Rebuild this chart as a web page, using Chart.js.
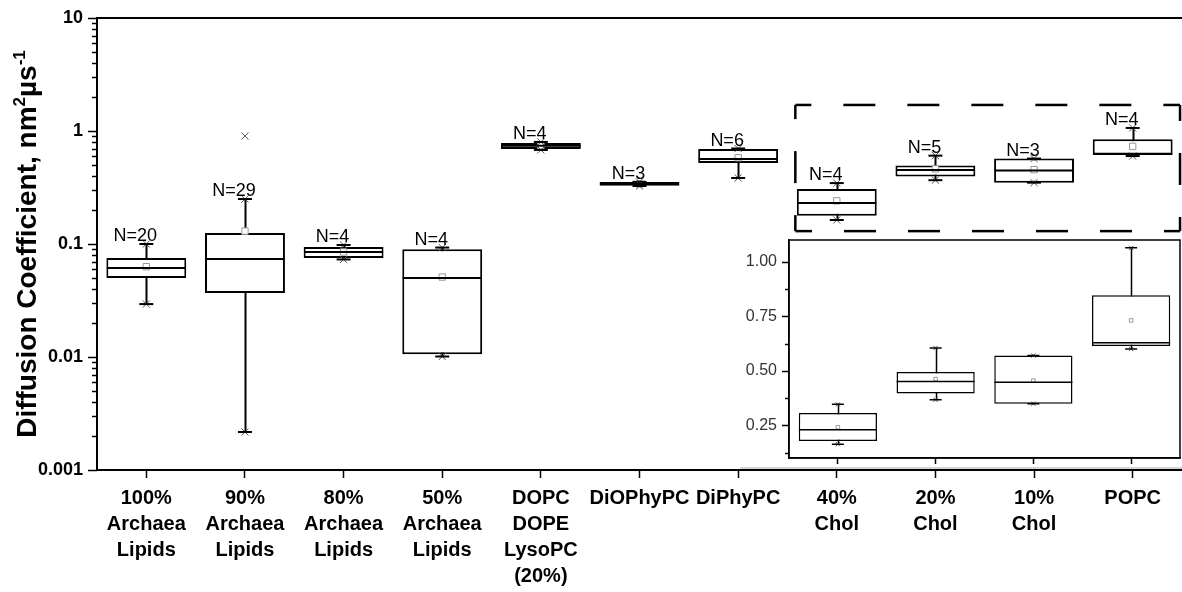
<!DOCTYPE html>
<html>
<head>
<meta charset="utf-8">
<script src="https://cdn.jsdelivr.net/npm/chart.js@4.4.1/dist/chart.umd.min.js"></script>
<style>
  html, body { margin: 0; padding: 0; background: #fff; }
  #wrap { position: relative; width: 1182px; height: 592px; }
  #mainChart { position: absolute; left: 0; top: 0; }
  #insetChart { position: absolute; left: 740px; top: 232px; }
</style>
</head>
<body>
<div id="wrap">
  <canvas id="mainChart" width="1182" height="592"></canvas>
  <canvas id="insetChart" width="442" height="245"></canvas>
</div>
<script>
// categories (multi-line labels)
const categories = [
  ["100%", "Archaea", "Lipids"],
  ["90%", "Archaea", "Lipids"],
  ["80%", "Archaea", "Lipids"],
  ["50%", "Archaea", "Lipids"],
  ["DOPC", "DOPE", "LysoPC", "(20%)"],
  ["DiOPhyPC"],
  ["DiPhyPC"],
  ["40%", "Chol"],
  ["20%", "Chol"],
  ["10%", "Chol"],
  ["POPC"]
];
const counts      = [20, 29, 4, 4, 4, 3, 6, 4, 5, 3, 4];
const whiskerLow  = [0.0294, 0.00217, 0.073, 0.0101, 0.68, 0.326, 0.384, 0.163, 0.367, 0.349, 0.600];
const q1          = [0.050, 0.0368, 0.075, 0.0106, 0.693, 0.327, 0.521, 0.178, 0.396, 0.349, 0.614];
const median      = [0.0613, 0.0736, 0.085, 0.050, 0.740, 0.340, 0.565, 0.230, 0.451, 0.447, 0.629];
const q3          = [0.0752, 0.125, 0.094, 0.090, 0.783, 0.354, 0.693, 0.306, 0.495, 0.570, 0.847];
const whiskerHigh = [0.100, 0.250, 0.098, 0.093, 0.800, 0.355, 0.700, 0.346, 0.605, 0.570, 1.064];
const means       = [0.063, 0.130, 0.085, 0.051, 0.740, 0.340, 0.580, 0.241, 0.462, 0.455, 0.731];
const outliers    = [[], [0.903], [], [], [], [], [], [], [], [], []];

// axis ticks
const yTickLabels = ["0.001", "0.01", "0.1", "1", "10"];
const insetTickLabels = ["0.25", "0.50", "0.75", "1.00"];
const insetStart = 7;   // first category shown in the inset

// zoom region marked with dashed box (category index / value units)
const zoomBox = { x0: 6.58, x1: 10.48, y0: 0.13, y1: 1.70 };

Chart.defaults.font.family = "'Liberation Sans', Arial, sans-serif";
Chart.defaults.color = "#000";

function boxDatasets(lo, a, med, b, hi, mn, outs, opt) {
  const pt = (data, style, r, color, w, extra) => Object.assign({
    type: "line", data: data, showLine: false, pointStyle: style, pointRadius: r,
    pointHoverRadius: r, pointBorderColor: color, pointBackgroundColor: "rgba(0,0,0,0)",
    pointBorderWidth: w, borderColor: color, order: 1
  }, extra || {});
  const sets = [
    pt(med, "line", opt.halfBox, "#000", opt.lw),
    pt(lo, "line", opt.cap, "#000", opt.lw),
    pt(hi, "line", opt.cap, "#000", opt.lw),
    pt(lo, "crossRot", opt.cross, "#555", 1),
    pt(hi, "crossRot", opt.cross, "#555", 1),
    pt(mn, "rect", opt.mean, "#999", 1, { pointBackgroundColor: "#fff" })
  ];
  // one dataset per outlier rank, null where a category has none
  const maxOut = Math.max(...outs.map(o => o.length));
  for (let k = 0; k < maxOut; k++) {
    sets.push(pt(outs.map(o => (o.length > k ? o[k] : null)), "crossRot", opt.cross, "#555", 1));
  }
  sets.push({
    type: "bar",
    data: a.map((v, i) => [v, b[i]]),
    backgroundColor: "#fff",
    borderColor: "#000",
    borderWidth: opt.lw,
    borderSkipped: false,
    barPercentage: opt.barPct,
    categoryPercentage: 1,
    order: 10
  });
  return sets;
}

function whiskerPlugin(lo, hi) {
  return {
    id: "whiskers",
    beforeDatasetsDraw(chart) {
      const { ctx, scales: { x, y } } = chart;
      ctx.save();
      ctx.strokeStyle = "#000";
      ctx.lineWidth = chart.options.whiskerWidth || 2;
      lo.forEach((v, i) => {
        const px = Math.round(x.getPixelForValue(i)) + 0.5;
        ctx.beginPath();
        ctx.moveTo(px, y.getPixelForValue(v));
        ctx.lineTo(px, y.getPixelForValue(hi[i]));
        ctx.stroke();
      });
      ctx.restore();
    }
  };
}

function drawYTicks(chart, isMajor, majorLen, minorLen, lw) {
  const { ctx, scales: { y }, chartArea } = chart;
  ctx.save();
  ctx.strokeStyle = "#000";
  ctx.lineWidth = lw;
  y.ticks.forEach(t => {
    const py = Math.round(y.getPixelForValue(t.value)) + 0.5;
    const len = isMajor(t.value) ? majorLen : minorLen;
    ctx.beginPath();
    ctx.moveTo(chartArea.left, py);
    ctx.lineTo(chartArea.left - len, py);
    ctx.stroke();
  });
  ctx.restore();
}

const isDecade = v => Math.abs(Math.log10(v) - Math.round(Math.log10(v))) < 1e-9;

// ---------- main chart ----------
const mainExtras = {
  id: "mainExtras",
  afterDraw(chart) {
    const { ctx, scales: { x, y }, chartArea } = chart;
    drawYTicks(chart, isDecade, 9, 5, 1.5);

    // top frame line
    ctx.save();
    ctx.strokeStyle = "#000";
    ctx.lineWidth = 2;
    ctx.beginPath();
    ctx.moveTo(chartArea.left, chartArea.top);
    ctx.lineTo(chartArea.right, chartArea.top);
    ctx.stroke();

    // N labels
    ctx.font = "18px 'Liberation Sans', Arial, sans-serif";
    ctx.fillStyle = "#000";
    ctx.textAlign = "center";
    ctx.textBaseline = "alphabetic";
    counts.forEach((n, i) => {
      const top = Math.max(whiskerHigh[i], ...(outliers[i].filter(v => v < 0.5)));
      ctx.fillText("N=" + n, x.getPixelForValue(i) - 11, y.getPixelForValue(top) - 3);
    });

    // dashed zoom box
    const L = x.getPixelForValue(zoomBox.x0), R = x.getPixelForValue(zoomBox.x1);
    const T = y.getPixelForValue(zoomBox.y1), B = y.getPixelForValue(zoomBox.y0);
    ctx.lineWidth = 2.5;
    ctx.setLineDash([32, 32]);
    ctx.lineDashOffset = 16;
    [[L, T, R, T], [R, T, R, B], [R, B, L, B], [L, B, L, T]].forEach(s => {
      ctx.beginPath();
      ctx.moveTo(s[0], s[1]);
      ctx.lineTo(s[2], s[3]);
      ctx.stroke();
    });
    ctx.setLineDash([]);

    // y title with superscripts
    const parts = [
      { t: "Diffusion Coefficient, nm", s: 28, dy: 0 },
      { t: "2", s: 17, dy: -11 },
      { t: "µs", s: 28, dy: 0 },
      { t: "-1", s: 17, dy: -11 }
    ];
    let total = 0;
    parts.forEach(p => {
      ctx.font = "bold " + p.s + "px 'Liberation Sans', Arial, sans-serif";
      p.w = ctx.measureText(p.t).width;
      total += p.w;
    });
    ctx.translate(36, (chartArea.top + chartArea.bottom) / 2);
    ctx.rotate(-Math.PI / 2);
    ctx.textAlign = "left";
    let cx = -total / 2;
    parts.forEach(p => {
      ctx.font = "bold " + p.s + "px 'Liberation Sans', Arial, sans-serif";
      ctx.fillText(p.t, cx, p.dy);
      cx += p.w;
    });
    ctx.restore();
  }
};

new Chart(document.getElementById("mainChart"), {
  type: "bar",
  data: {
    labels: categories,
    datasets: boxDatasets(whiskerLow, q1, median, q3, whiskerHigh, means, outliers,
      { halfBox: 39.5, cap: 7, cross: 5, mean: 4.5, lw: 2, barPct: 0.81 })
  },
  options: {
    responsive: false,
    animation: false,
    devicePixelRatio: 1,
    layout: { autoPadding: false, padding: { top: 18, right: 0, bottom: 0, left: 0 } },
    plugins: { legend: { display: false }, tooltip: { enabled: false } },
    scales: {
      x: {
        offset: true,
        grid: { offset: false, drawOnChartArea: false, drawTicks: true, tickLength: 8, tickColor: "#000", tickWidth: 1.5 },
        border: { display: true, color: "#000", width: 2 },
        ticks: {
          autoSkip: false, maxRotation: 0, padding: 7, color: "#000",
          font: { size: 20, weight: "bold", lineHeight: 1.3 }
        },
        afterFit(axis) { axis.height = 122; axis.paddingLeft = 0; axis.paddingRight = 0; }
      },
      y: {
        type: "logarithmic",
        min: 0.001,
        max: 10,
        afterBuildTicks(axis) {
          const t = [];
          for (let e = -3; e <= 1; e++) {
            for (let m = 1; m <= 9; m++) {
              const v = +(m * Math.pow(10, e)).toPrecision(6);
              if (v <= 10) t.push({ value: v });
            }
          }
          axis.ticks = t;
        },
        grid: { drawOnChartArea: false, drawTicks: false },
        border: { display: true, color: "#000", width: 2 },
        ticks: {
          autoSkip: false, padding: 14, color: "#000",
          font: { size: 18, weight: "bold" },
          callback(v) {
            return isDecade(v) ? yTickLabels[Math.round(Math.log10(v)) + 3] : "";
          }
        },
        afterFit(axis) { axis.width = 97; axis.paddingTop = 0; axis.paddingBottom = 0; }
      }
    }
  },
  plugins: [whiskerPlugin(whiskerLow, whiskerHigh), mainExtras]
});

// ---------- inset (linear scale) ----------
const sl = arr => arr.slice(insetStart);
const isQuarter = v => Math.abs(v * 4 - Math.round(v * 4)) < 1e-9;

const insetExtras = {
  id: "insetExtras",
  afterDraw(chart) {
    const { ctx, chartArea } = chart;
    drawYTicks(chart, isQuarter, 7, 4, 1.5);
    ctx.save();
    ctx.strokeStyle = "#000";
    ctx.lineWidth = 1.5;
    ctx.strokeRect(chartArea.left, chartArea.top, chartArea.right - chartArea.left, chartArea.bottom - chartArea.top);
    ctx.strokeStyle = "#d4d4d4";
    ctx.lineWidth = 2;
    ctx.beginPath();
    ctx.moveTo(0, chart.height - 9);
    ctx.lineTo(chart.width, chart.height - 9);
    ctx.stroke();
    ctx.restore();
  }
};

new Chart(document.getElementById("insetChart"), {
  type: "bar",
  data: {
    labels: sl(categories).map(c => c.join(" ")),
    datasets: boxDatasets(sl(whiskerLow), sl(q1), sl(median), sl(q3), sl(whiskerHigh), sl(means), sl(outliers),
      { halfBox: 39, cap: 6, cross: 3, mean: 2.5, lw: 1.5, barPct: 0.8 })
  },
  options: {
    responsive: false,
    animation: false,
    devicePixelRatio: 1,
    whiskerWidth: 1.5,
    layout: { autoPadding: false, padding: { top: 8, right: 2, bottom: 0, left: 0 } },
    plugins: { legend: { display: false }, tooltip: { enabled: false } },
    scales: {
      x: {
        offset: true,
        grid: { offset: false, drawOnChartArea: false, drawTicks: true, tickLength: 6, tickColor: "#000", tickWidth: 1.5 },
        border: { display: true, color: "#000", width: 1.5 },
        ticks: { autoSkip: false, maxRotation: 0, callback: () => "" },
        afterFit(axis) { axis.height = 19; axis.paddingLeft = 0; axis.paddingRight = 0; }
      },
      y: {
        type: "linear",
        min: 0.1,
        max: 1.1,
        afterBuildTicks(axis) {
          const t = [];
          for (let k = 1; k <= 8; k++) t.push({ value: k * 0.125 });
          axis.ticks = t;
        },
        grid: { drawOnChartArea: false, drawTicks: false },
        border: { display: true, color: "#000", width: 1.5 },
        ticks: {
          autoSkip: false, padding: 12, color: "#333",
          font: { size: 16 },
          callback(v) {
            return isQuarter(v) ? insetTickLabels[Math.round(v * 4) - 1] : "";
          }
        },
        afterFit(axis) { axis.width = 49; axis.paddingTop = 0; axis.paddingBottom = 0; }
      }
    }
  },
  plugins: [whiskerPlugin(sl(whiskerLow), sl(whiskerHigh)), insetExtras]
});
</script>
</body>
</html>
